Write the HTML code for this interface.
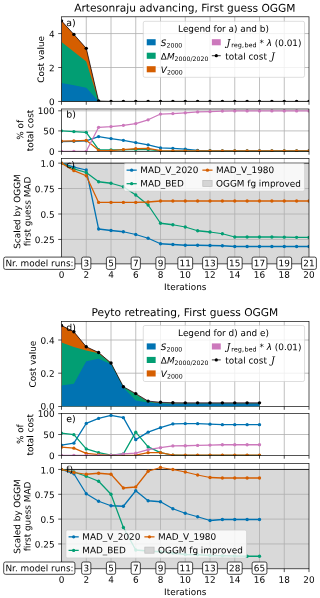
<!DOCTYPE html>
<html lang="en"><head><meta charset="utf-8"><title>Cost and MAD over iterations</title>
<style>html,body{margin:0;padding:0;background:#fff}svg{display:block}</style></head>
<body>
<svg width="320" height="598" viewBox="0 0 320 598" text-rendering="geometricPrecision" font-family='"DejaVu Sans", "Liberation Sans", sans-serif' fill="#000">
<rect width="320" height="598" fill="#fff"/>
<text x="184.85" y="11.6" transform="rotate(0.03 184.85 11.6)" font-size="10.65" text-anchor="middle">Artesonraju advancing, First guess OGGM</text>
<g stroke="#b0b0b0" stroke-width="0.8"><line x1="86.25" y1="16.8" x2="86.25" y2="101.45"/><line x1="111" y1="16.8" x2="111" y2="101.45"/><line x1="135.75" y1="16.8" x2="135.75" y2="101.45"/><line x1="160.5" y1="16.8" x2="160.5" y2="101.45"/><line x1="185.25" y1="16.8" x2="185.25" y2="101.45"/><line x1="210" y1="16.8" x2="210" y2="101.45"/><line x1="234.75" y1="16.8" x2="234.75" y2="101.45"/><line x1="259.5" y1="16.8" x2="259.5" y2="101.45"/><line x1="284.25" y1="16.8" x2="284.25" y2="101.45"/><line x1="61.5" y1="67.51" x2="309" y2="67.51"/><line x1="61.5" y1="33.57" x2="309" y2="33.57"/></g>
<clipPath id="c1"><rect x="61.5" y="16.8" width="247.5" height="84.65"/></clipPath>
<g clip-path="url(#c1)">
<polygon points="61.5,20.84 73.88,34.42 86.25,48.33 98.62,101.03 111,101.33 123.38,101.33 135.75,101.33 148.12,101.33 160.5,101.33 172.88,101.33 185.25,101.33 197.62,101.33 210,101.33 222.38,101.33 234.75,101.33 247.12,101.33 259.5,101.33 271.88,101.33 284.25,101.33 296.62,101.33 309,101.33 309,101.45 296.62,101.45 284.25,101.45 271.88,101.45 259.5,101.45 247.12,101.45 234.75,101.45 222.38,101.45 210,101.45 197.62,101.45 185.25,101.45 172.88,101.45 160.5,101.45 148.12,101.45 135.75,101.45 123.38,101.45 111,101.45 98.62,101.45 86.25,101.45 73.88,101.45 61.5,101.45" fill="#cc78bc"/>
<polygon points="61.5,20.84 73.88,34.42 86.25,48.33 98.62,101.11 111,101.35 123.38,101.35 135.75,101.35 148.12,101.35 160.5,101.35 172.88,101.35 185.25,101.35 197.62,101.35 210,101.35 222.38,101.35 234.75,101.35 247.12,101.35 259.5,101.35 271.88,101.35 284.25,101.35 296.62,101.35 309,101.35 309,101.45 296.62,101.45 284.25,101.45 271.88,101.45 259.5,101.45 247.12,101.45 234.75,101.45 222.38,101.45 210,101.45 197.62,101.45 185.25,101.45 172.88,101.45 160.5,101.45 148.12,101.45 135.75,101.45 123.38,101.45 111,101.45 98.62,101.45 86.25,101.45 73.88,101.45 61.5,101.45" fill="#d55e00"/>
<polygon points="61.5,42.06 73.88,51.73 86.25,61.4 98.62,101.25 111,101.37 123.38,101.37 135.75,101.37 148.12,101.37 160.5,101.37 172.88,101.37 185.25,101.37 197.62,101.37 210,101.37 222.38,101.37 234.75,101.37 247.12,101.37 259.5,101.37 271.88,101.37 284.25,101.37 296.62,101.37 309,101.37 309,101.45 296.62,101.45 284.25,101.45 271.88,101.45 259.5,101.45 247.12,101.45 234.75,101.45 222.38,101.45 210,101.45 197.62,101.45 185.25,101.45 172.88,101.45 160.5,101.45 148.12,101.45 135.75,101.45 123.38,101.45 111,101.45 98.62,101.45 86.25,101.45 73.88,101.45 61.5,101.45" fill="#029e73"/>
<polygon points="61.5,82.95 73.88,85.16 86.25,87.7 98.62,101.35 111,101.4 123.38,101.4 135.75,101.4 148.12,101.4 160.5,101.4 172.88,101.4 185.25,101.4 197.62,101.4 210,101.4 222.38,101.4 234.75,101.4 247.12,101.4 259.5,101.4 271.88,101.4 284.25,101.4 296.62,101.4 309,101.4 309,101.45 296.62,101.45 284.25,101.45 271.88,101.45 259.5,101.45 247.12,101.45 234.75,101.45 222.38,101.45 210,101.45 197.62,101.45 185.25,101.45 172.88,101.45 160.5,101.45 148.12,101.45 135.75,101.45 123.38,101.45 111,101.45 98.62,101.45 86.25,101.45 73.88,101.45 61.5,101.45" fill="#0173b2"/>
</g>
<rect x="61.5" y="16.8" width="247.5" height="84.65" fill="none" stroke="#000" stroke-width="0.67"/>
<g clip-path="url(#c1)"><polyline points="61.5,20.84 73.88,34.42 86.25,48.33 98.62,101.03 111,101.35 123.38,101.35 135.75,101.35 148.12,101.35 160.5,101.35 172.88,101.35 185.25,101.35 197.62,101.35 210,101.35 222.38,101.35 234.75,101.35 247.12,101.35 259.5,101.35 271.88,101.35 284.25,101.35 296.62,101.35 309,101.35" fill="none" stroke="#000" stroke-width="0.7" stroke-linejoin="round" stroke-linecap="butt"/><circle cx="61.5" cy="20.84" r="1.7" fill="#000"/><circle cx="73.88" cy="34.42" r="1.7" fill="#000"/><circle cx="86.25" cy="48.33" r="1.7" fill="#000"/><circle cx="98.62" cy="101.03" r="1.7" fill="#000"/><circle cx="111" cy="101.35" r="1.7" fill="#000"/><circle cx="123.38" cy="101.35" r="1.7" fill="#000"/><circle cx="135.75" cy="101.35" r="1.7" fill="#000"/><circle cx="148.12" cy="101.35" r="1.7" fill="#000"/><circle cx="160.5" cy="101.35" r="1.7" fill="#000"/><circle cx="172.88" cy="101.35" r="1.7" fill="#000"/><circle cx="185.25" cy="101.35" r="1.7" fill="#000"/><circle cx="197.62" cy="101.35" r="1.7" fill="#000"/><circle cx="210" cy="101.35" r="1.7" fill="#000"/><circle cx="222.38" cy="101.35" r="1.7" fill="#000"/><circle cx="234.75" cy="101.35" r="1.7" fill="#000"/><circle cx="247.12" cy="101.35" r="1.7" fill="#000"/><circle cx="259.5" cy="101.35" r="1.7" fill="#000"/><circle cx="271.88" cy="101.35" r="1.7" fill="#000"/><circle cx="284.25" cy="101.35" r="1.7" fill="#000"/><circle cx="296.62" cy="101.35" r="1.7" fill="#000"/><circle cx="309" cy="101.35" r="1.7" fill="#000"/></g>
<g stroke="#000" stroke-width="0.67"><line x1="61.5" y1="101.45" x2="61.5" y2="104.75"/><line x1="86.25" y1="101.45" x2="86.25" y2="104.75"/><line x1="111" y1="101.45" x2="111" y2="104.75"/><line x1="135.75" y1="101.45" x2="135.75" y2="104.75"/><line x1="160.5" y1="101.45" x2="160.5" y2="104.75"/><line x1="185.25" y1="101.45" x2="185.25" y2="104.75"/><line x1="210" y1="101.45" x2="210" y2="104.75"/><line x1="234.75" y1="101.45" x2="234.75" y2="104.75"/><line x1="259.5" y1="101.45" x2="259.5" y2="104.75"/><line x1="284.25" y1="101.45" x2="284.25" y2="104.75"/><line x1="309" y1="101.45" x2="309" y2="104.75"/><line x1="58.2" y1="101.45" x2="61.5" y2="101.45"/><line x1="58.2" y1="67.51" x2="61.5" y2="67.51"/><line x1="58.2" y1="33.57" x2="61.5" y2="33.57"/></g>
<text x="54.6" y="105.1" transform="rotate(0.03 54.6 105.1)" font-size="8.9" text-anchor="end">0</text>
<text x="54.6" y="71.16" transform="rotate(0.03 54.6 71.16)" font-size="8.9" text-anchor="end">2</text>
<text x="54.6" y="37.22" transform="rotate(0.03 54.6 37.22)" font-size="8.9" text-anchor="end">4</text>
<text transform="translate(44.1 59.33) rotate(-89.97)" font-size="8.9" text-anchor="middle">Cost value</text>
<text x="66.2" y="26.1" transform="rotate(0.03 66.2 26.1)" font-size="9.4" text-anchor="start">a)</text>
<rect x="143.25" y="21.3" width="161.3" height="56" rx="1.7" ry="1.7" fill="#fff" fill-opacity="0.8" stroke="#cacaca" stroke-opacity="0.95" stroke-width="0.67"/>
<text x="223.5" y="31.8" transform="rotate(0.03 223.5 31.8)" font-size="8.9" text-anchor="middle">Legend for a) and b)</text>
<rect x="146.75" y="39.2" width="8.9" height="6.1" fill="#0173b2"/>
<rect x="146.75" y="52.7" width="8.9" height="6.1" fill="#029e73"/>
<rect x="146.75" y="66.2" width="8.9" height="6.1" fill="#d55e00"/>
<text x="160.85" y="45.9" transform="rotate(0.03 160.85 45.9)" font-size="8.9" text-anchor="start"><tspan font-style="italic">S</tspan><tspan font-size="6.23" dy="1.5">2000</tspan></text>
<text x="160.85" y="59.4" transform="rotate(0.03 160.85 59.4)" font-size="8.9" text-anchor="start">Δ<tspan font-style="italic">M</tspan><tspan font-size="6.23" dy="1.5">2000/2020</tspan></text>
<text x="160.85" y="72.9" transform="rotate(0.03 160.85 72.9)" font-size="8.9" text-anchor="start"><tspan font-style="italic">V</tspan><tspan font-size="6.23" dy="1.5">2000</tspan></text>
<rect x="211.85" y="39.2" width="8.9" height="6.1" fill="#cc78bc"/>
<text x="225.35" y="45.9" transform="rotate(0.03 225.35 45.9)" font-size="8.9" text-anchor="start"><tspan dx="1.2" font-family='"DejaVu Serif", "Liberation Serif", serif' font-style="italic" font-size="9.6">J</tspan><tspan x="231.35" font-size="6.45" dy="1.3">reg,<tspan dx="0.5">bed</tspan></tspan><tspan dy="-1.3"> * </tspan><tspan font-style="italic">λ</tspan> (0.01)</text>
<line x1="211.85" y1="55.7" x2="220.75" y2="55.7" stroke="#000" stroke-width="0.8"/>
<circle cx="216.3" cy="55.7" r="1.6" fill="#000"/>
<text x="225.35" y="59.4" transform="rotate(0.03 225.35 59.4)" font-size="8.9" text-anchor="start">total cost <tspan dx="1.2" font-family='"DejaVu Serif", "Liberation Serif", serif' font-style="italic" font-size="9.6">J</tspan></text>
<g stroke="#b0b0b0" stroke-width="0.8"><line x1="86.25" y1="109" x2="86.25" y2="151.4"/><line x1="111" y1="109" x2="111" y2="151.4"/><line x1="135.75" y1="109" x2="135.75" y2="151.4"/><line x1="160.5" y1="109" x2="160.5" y2="151.4"/><line x1="185.25" y1="109" x2="185.25" y2="151.4"/><line x1="210" y1="109" x2="210" y2="151.4"/><line x1="234.75" y1="109" x2="234.75" y2="151.4"/><line x1="259.5" y1="109" x2="259.5" y2="151.4"/><line x1="284.25" y1="109" x2="284.25" y2="151.4"/><line x1="61.5" y1="130.9" x2="309" y2="130.9"/><line x1="61.5" y1="110.8" x2="309" y2="110.8"/></g>
<clipPath id="c2"><rect x="61.5" y="109" width="247.5" height="42.4"/></clipPath>
<g clip-path="url(#c2)"><polyline points="61.5,141.55 73.88,141.3 86.25,140.8 98.62,136.55 111,138.55 123.38,140.3 135.75,142.55 148.12,144.8 160.5,147.8 172.88,148.3 185.25,149.05 197.62,150.3 210,150.7 222.38,150.8 234.75,150.8 247.12,150.8 259.5,150.8 271.88,150.8 284.25,150.8 296.62,150.8 309,150.8" fill="none" stroke="#0173b2" stroke-width="1.26" stroke-linejoin="round" stroke-linecap="butt"/><circle cx="61.5" cy="141.55" r="1.65" fill="#0173b2"/><circle cx="73.88" cy="141.3" r="1.65" fill="#0173b2"/><circle cx="86.25" cy="140.8" r="1.65" fill="#0173b2"/><circle cx="98.62" cy="136.55" r="1.65" fill="#0173b2"/><circle cx="111" cy="138.55" r="1.65" fill="#0173b2"/><circle cx="123.38" cy="140.3" r="1.65" fill="#0173b2"/><circle cx="135.75" cy="142.55" r="1.65" fill="#0173b2"/><circle cx="148.12" cy="144.8" r="1.65" fill="#0173b2"/><circle cx="160.5" cy="147.8" r="1.65" fill="#0173b2"/><circle cx="172.88" cy="148.3" r="1.65" fill="#0173b2"/><circle cx="185.25" cy="149.05" r="1.65" fill="#0173b2"/><circle cx="197.62" cy="150.3" r="1.65" fill="#0173b2"/><circle cx="210" cy="150.7" r="1.65" fill="#0173b2"/><circle cx="222.38" cy="150.8" r="1.65" fill="#0173b2"/><circle cx="234.75" cy="150.8" r="1.65" fill="#0173b2"/><circle cx="247.12" cy="150.8" r="1.65" fill="#0173b2"/><circle cx="259.5" cy="150.8" r="1.65" fill="#0173b2"/><circle cx="271.88" cy="150.8" r="1.65" fill="#0173b2"/><circle cx="284.25" cy="150.8" r="1.65" fill="#0173b2"/><circle cx="296.62" cy="150.8" r="1.65" fill="#0173b2"/><circle cx="309" cy="150.8" r="1.65" fill="#0173b2"/></g>
<g clip-path="url(#c2)"><polyline points="61.5,130.8 73.88,131.55 86.25,132.3 98.62,149.55 111,149.8 123.38,149.8 135.75,149.4 148.12,149.6 160.5,150.9 172.88,151.1 185.25,151.1 197.62,151.1 210,151.1 222.38,151.1 234.75,151.1 247.12,151.1 259.5,151.1 271.88,151.1 284.25,151.1 296.62,151.1 309,151.1" fill="none" stroke="#029e73" stroke-width="1.26" stroke-linejoin="round" stroke-linecap="butt"/><circle cx="61.5" cy="130.8" r="1.65" fill="#029e73"/><circle cx="73.88" cy="131.55" r="1.65" fill="#029e73"/><circle cx="86.25" cy="132.3" r="1.65" fill="#029e73"/><circle cx="98.62" cy="149.55" r="1.65" fill="#029e73"/><circle cx="111" cy="149.8" r="1.65" fill="#029e73"/><circle cx="123.38" cy="149.8" r="1.65" fill="#029e73"/><circle cx="135.75" cy="149.4" r="1.65" fill="#029e73"/><circle cx="148.12" cy="149.6" r="1.65" fill="#029e73"/><circle cx="160.5" cy="150.9" r="1.65" fill="#029e73"/><circle cx="172.88" cy="151.1" r="1.65" fill="#029e73"/><circle cx="185.25" cy="151.1" r="1.65" fill="#029e73"/><circle cx="197.62" cy="151.1" r="1.65" fill="#029e73"/><circle cx="210" cy="151.1" r="1.65" fill="#029e73"/><circle cx="222.38" cy="151.1" r="1.65" fill="#029e73"/><circle cx="234.75" cy="151.1" r="1.65" fill="#029e73"/><circle cx="247.12" cy="151.1" r="1.65" fill="#029e73"/><circle cx="259.5" cy="151.1" r="1.65" fill="#029e73"/><circle cx="271.88" cy="151.1" r="1.65" fill="#029e73"/><circle cx="284.25" cy="151.1" r="1.65" fill="#029e73"/><circle cx="296.62" cy="151.1" r="1.65" fill="#029e73"/><circle cx="309" cy="151.1" r="1.65" fill="#029e73"/></g>
<g clip-path="url(#c2)"><polyline points="61.5,141.05 73.88,140.8 86.25,140.3 98.62,150.3 111,150.55 123.38,149.55 135.75,148.55 148.12,148.4 160.5,150.6 172.88,150.8 185.25,150.9 197.62,150.95 210,150.95 222.38,150.95 234.75,150.95 247.12,150.95 259.5,150.95 271.88,150.95 284.25,150.95 296.62,150.95 309,150.95" fill="none" stroke="#d55e00" stroke-width="1.26" stroke-linejoin="round" stroke-linecap="butt"/><circle cx="61.5" cy="141.05" r="1.65" fill="#d55e00"/><circle cx="73.88" cy="140.8" r="1.65" fill="#d55e00"/><circle cx="86.25" cy="140.3" r="1.65" fill="#d55e00"/><circle cx="98.62" cy="150.3" r="1.65" fill="#d55e00"/><circle cx="111" cy="150.55" r="1.65" fill="#d55e00"/><circle cx="123.38" cy="149.55" r="1.65" fill="#d55e00"/><circle cx="135.75" cy="148.55" r="1.65" fill="#d55e00"/><circle cx="148.12" cy="148.4" r="1.65" fill="#d55e00"/><circle cx="160.5" cy="150.6" r="1.65" fill="#d55e00"/><circle cx="172.88" cy="150.8" r="1.65" fill="#d55e00"/><circle cx="185.25" cy="150.9" r="1.65" fill="#d55e00"/><circle cx="197.62" cy="150.95" r="1.65" fill="#d55e00"/><circle cx="210" cy="150.95" r="1.65" fill="#d55e00"/><circle cx="222.38" cy="150.95" r="1.65" fill="#d55e00"/><circle cx="234.75" cy="150.95" r="1.65" fill="#d55e00"/><circle cx="247.12" cy="150.95" r="1.65" fill="#d55e00"/><circle cx="259.5" cy="150.95" r="1.65" fill="#d55e00"/><circle cx="271.88" cy="150.95" r="1.65" fill="#d55e00"/><circle cx="284.25" cy="150.95" r="1.65" fill="#d55e00"/><circle cx="296.62" cy="150.95" r="1.65" fill="#d55e00"/><circle cx="309" cy="150.95" r="1.65" fill="#d55e00"/></g>
<g clip-path="url(#c2)"><polyline points="61.5,151.3 73.88,151.3 86.25,151.3 98.62,127.3 111,126.55 123.38,125.3 135.75,123.55 148.12,119.8 160.5,114.05 172.88,113.55 185.25,112.8 197.62,111.9 210,111.55 222.38,111.1 234.75,110.9 247.12,110.9 259.5,110.9 271.88,110.9 284.25,110.9 296.62,110.9 309,110.9" fill="none" stroke="#cc78bc" stroke-width="1.26" stroke-linejoin="round" stroke-linecap="butt"/><circle cx="61.5" cy="151.3" r="1.65" fill="#cc78bc"/><circle cx="73.88" cy="151.3" r="1.65" fill="#cc78bc"/><circle cx="86.25" cy="151.3" r="1.65" fill="#cc78bc"/><circle cx="98.62" cy="127.3" r="1.65" fill="#cc78bc"/><circle cx="111" cy="126.55" r="1.65" fill="#cc78bc"/><circle cx="123.38" cy="125.3" r="1.65" fill="#cc78bc"/><circle cx="135.75" cy="123.55" r="1.65" fill="#cc78bc"/><circle cx="148.12" cy="119.8" r="1.65" fill="#cc78bc"/><circle cx="160.5" cy="114.05" r="1.65" fill="#cc78bc"/><circle cx="172.88" cy="113.55" r="1.65" fill="#cc78bc"/><circle cx="185.25" cy="112.8" r="1.65" fill="#cc78bc"/><circle cx="197.62" cy="111.9" r="1.65" fill="#cc78bc"/><circle cx="210" cy="111.55" r="1.65" fill="#cc78bc"/><circle cx="222.38" cy="111.1" r="1.65" fill="#cc78bc"/><circle cx="234.75" cy="110.9" r="1.65" fill="#cc78bc"/><circle cx="247.12" cy="110.9" r="1.65" fill="#cc78bc"/><circle cx="259.5" cy="110.9" r="1.65" fill="#cc78bc"/><circle cx="271.88" cy="110.9" r="1.65" fill="#cc78bc"/><circle cx="284.25" cy="110.9" r="1.65" fill="#cc78bc"/><circle cx="296.62" cy="110.9" r="1.65" fill="#cc78bc"/><circle cx="309" cy="110.9" r="1.65" fill="#cc78bc"/></g>
<rect x="61.5" y="109" width="247.5" height="42.4" fill="none" stroke="#000" stroke-width="0.67"/>
<g stroke="#000" stroke-width="0.67"><line x1="61.5" y1="151.4" x2="61.5" y2="154.7"/><line x1="86.25" y1="151.4" x2="86.25" y2="154.7"/><line x1="111" y1="151.4" x2="111" y2="154.7"/><line x1="135.75" y1="151.4" x2="135.75" y2="154.7"/><line x1="160.5" y1="151.4" x2="160.5" y2="154.7"/><line x1="185.25" y1="151.4" x2="185.25" y2="154.7"/><line x1="210" y1="151.4" x2="210" y2="154.7"/><line x1="234.75" y1="151.4" x2="234.75" y2="154.7"/><line x1="259.5" y1="151.4" x2="259.5" y2="154.7"/><line x1="284.25" y1="151.4" x2="284.25" y2="154.7"/><line x1="309" y1="151.4" x2="309" y2="154.7"/><line x1="58.2" y1="151.35" x2="61.5" y2="151.35"/><line x1="58.2" y1="130.9" x2="61.5" y2="130.9"/><line x1="58.2" y1="110.8" x2="61.5" y2="110.8"/></g>
<text x="54.6" y="154.8" transform="rotate(0.03 54.6 154.8)" font-size="8.9" text-anchor="end">0</text>
<text x="54.6" y="134.25" transform="rotate(0.03 54.6 134.25)" font-size="8.9" text-anchor="end">50</text>
<text x="54.6" y="113.95" transform="rotate(0.03 54.6 113.95)" font-size="8.9" text-anchor="end">100</text>
<text transform="translate(23.3 129.9) rotate(-89.97)" font-size="8.9" text-anchor="middle">% of</text>
<text transform="translate(33.3 130.5) rotate(-89.97)" font-size="8.9" text-anchor="middle">total cost</text>
<text x="66.2" y="117.4" transform="rotate(0.03 66.2 117.4)" font-size="9.4" text-anchor="start">b)</text>
<rect x="61.5" y="163.15" width="247.5" height="100.75" fill="#d9d9d9"/>
<g stroke="#b0b0b0" stroke-width="0.8"><line x1="86.25" y1="158.6" x2="86.25" y2="263.9"/><line x1="111" y1="158.6" x2="111" y2="263.9"/><line x1="135.75" y1="158.6" x2="135.75" y2="263.9"/><line x1="160.5" y1="158.6" x2="160.5" y2="263.9"/><line x1="185.25" y1="158.6" x2="185.25" y2="263.9"/><line x1="210" y1="158.6" x2="210" y2="263.9"/><line x1="234.75" y1="158.6" x2="234.75" y2="263.9"/><line x1="259.5" y1="158.6" x2="259.5" y2="263.9"/><line x1="284.25" y1="158.6" x2="284.25" y2="263.9"/><line x1="61.5" y1="188.5" x2="309" y2="188.5"/><line x1="61.5" y1="214" x2="309" y2="214"/><line x1="61.5" y1="239.45" x2="309" y2="239.45"/></g>
<clipPath id="c3"><rect x="61.5" y="158.6" width="247.5" height="105.3"/></clipPath>
<line x1="61.5" y1="163.15" x2="309" y2="163.15" stroke="#000" stroke-width="0.85"/>
<g clip-path="url(#c3)"><polyline points="61.5,163.15 73.88,167.2 86.25,170 98.62,229 111,230.5 123.38,231.75 135.75,234.5 148.12,238.25 160.5,243.75 172.88,244.5 185.25,245.25 197.62,245.25 210,245.5 222.38,245.75 234.75,246.5 247.12,246.5 259.5,246.5 271.88,246.5 284.25,246.5 296.62,246.5 309,246.5" fill="none" stroke="#0173b2" stroke-width="1.26" stroke-linejoin="round" stroke-linecap="butt"/><circle cx="61.5" cy="163.15" r="1.65" fill="#0173b2"/><circle cx="73.88" cy="167.2" r="1.65" fill="#0173b2"/><circle cx="86.25" cy="170" r="1.65" fill="#0173b2"/><circle cx="98.62" cy="229" r="1.65" fill="#0173b2"/><circle cx="111" cy="230.5" r="1.65" fill="#0173b2"/><circle cx="123.38" cy="231.75" r="1.65" fill="#0173b2"/><circle cx="135.75" cy="234.5" r="1.65" fill="#0173b2"/><circle cx="148.12" cy="238.25" r="1.65" fill="#0173b2"/><circle cx="160.5" cy="243.75" r="1.65" fill="#0173b2"/><circle cx="172.88" cy="244.5" r="1.65" fill="#0173b2"/><circle cx="185.25" cy="245.25" r="1.65" fill="#0173b2"/><circle cx="197.62" cy="245.25" r="1.65" fill="#0173b2"/><circle cx="210" cy="245.5" r="1.65" fill="#0173b2"/><circle cx="222.38" cy="245.75" r="1.65" fill="#0173b2"/><circle cx="234.75" cy="246.5" r="1.65" fill="#0173b2"/><circle cx="247.12" cy="246.5" r="1.65" fill="#0173b2"/><circle cx="259.5" cy="246.5" r="1.65" fill="#0173b2"/><circle cx="271.88" cy="246.5" r="1.65" fill="#0173b2"/><circle cx="284.25" cy="246.5" r="1.65" fill="#0173b2"/><circle cx="296.62" cy="246.5" r="1.65" fill="#0173b2"/><circle cx="309" cy="246.5" r="1.65" fill="#0173b2"/></g>
<g clip-path="url(#c3)"><polyline points="61.5,163.15 73.88,168.95 86.25,172.5 98.62,181.75 111,183.25 123.38,186.75 135.75,195 148.12,205 160.5,223.25 172.88,224.75 185.25,227 197.62,230.75 210,232 222.38,233.75 234.75,237 247.12,237 259.5,237 271.88,237 284.25,237.2 296.62,237.3 309,237.4" fill="none" stroke="#029e73" stroke-width="1.26" stroke-linejoin="round" stroke-linecap="butt"/><circle cx="61.5" cy="163.15" r="1.65" fill="#029e73"/><circle cx="73.88" cy="168.95" r="1.65" fill="#029e73"/><circle cx="86.25" cy="172.5" r="1.65" fill="#029e73"/><circle cx="98.62" cy="181.75" r="1.65" fill="#029e73"/><circle cx="111" cy="183.25" r="1.65" fill="#029e73"/><circle cx="123.38" cy="186.75" r="1.65" fill="#029e73"/><circle cx="135.75" cy="195" r="1.65" fill="#029e73"/><circle cx="148.12" cy="205" r="1.65" fill="#029e73"/><circle cx="160.5" cy="223.25" r="1.65" fill="#029e73"/><circle cx="172.88" cy="224.75" r="1.65" fill="#029e73"/><circle cx="185.25" cy="227" r="1.65" fill="#029e73"/><circle cx="197.62" cy="230.75" r="1.65" fill="#029e73"/><circle cx="210" cy="232" r="1.65" fill="#029e73"/><circle cx="222.38" cy="233.75" r="1.65" fill="#029e73"/><circle cx="234.75" cy="237" r="1.65" fill="#029e73"/><circle cx="247.12" cy="237" r="1.65" fill="#029e73"/><circle cx="259.5" cy="237" r="1.65" fill="#029e73"/><circle cx="271.88" cy="237" r="1.65" fill="#029e73"/><circle cx="284.25" cy="237.2" r="1.65" fill="#029e73"/><circle cx="296.62" cy="237.3" r="1.65" fill="#029e73"/><circle cx="309" cy="237.4" r="1.65" fill="#029e73"/></g>
<g clip-path="url(#c3)"><polyline points="61.5,163.15 73.88,170.7 86.25,175.75 98.62,202.4 111,202.4 123.38,202.4 135.75,202.4 148.12,202 160.5,201 172.88,201 185.25,201 197.62,201 210,201 222.38,201 234.75,201 247.12,201 259.5,201 271.88,201 284.25,201 296.62,201 309,201" fill="none" stroke="#d55e00" stroke-width="1.26" stroke-linejoin="round" stroke-linecap="butt"/><circle cx="61.5" cy="163.15" r="1.65" fill="#d55e00"/><circle cx="73.88" cy="170.7" r="1.65" fill="#d55e00"/><circle cx="86.25" cy="175.75" r="1.65" fill="#d55e00"/><circle cx="98.62" cy="202.4" r="1.65" fill="#d55e00"/><circle cx="111" cy="202.4" r="1.65" fill="#d55e00"/><circle cx="123.38" cy="202.4" r="1.65" fill="#d55e00"/><circle cx="135.75" cy="202.4" r="1.65" fill="#d55e00"/><circle cx="148.12" cy="202" r="1.65" fill="#d55e00"/><circle cx="160.5" cy="201" r="1.65" fill="#d55e00"/><circle cx="172.88" cy="201" r="1.65" fill="#d55e00"/><circle cx="185.25" cy="201" r="1.65" fill="#d55e00"/><circle cx="197.62" cy="201" r="1.65" fill="#d55e00"/><circle cx="210" cy="201" r="1.65" fill="#d55e00"/><circle cx="222.38" cy="201" r="1.65" fill="#d55e00"/><circle cx="234.75" cy="201" r="1.65" fill="#d55e00"/><circle cx="247.12" cy="201" r="1.65" fill="#d55e00"/><circle cx="259.5" cy="201" r="1.65" fill="#d55e00"/><circle cx="271.88" cy="201" r="1.65" fill="#d55e00"/><circle cx="284.25" cy="201" r="1.65" fill="#d55e00"/><circle cx="296.62" cy="201" r="1.65" fill="#d55e00"/><circle cx="309" cy="201" r="1.65" fill="#d55e00"/></g>
<rect x="61.5" y="158.6" width="247.5" height="105.3" fill="none" stroke="#000" stroke-width="0.67"/>
<g stroke="#000" stroke-width="0.67"><line x1="61.5" y1="263.9" x2="61.5" y2="267.2"/><line x1="86.25" y1="263.9" x2="86.25" y2="267.2"/><line x1="111" y1="263.9" x2="111" y2="267.2"/><line x1="135.75" y1="263.9" x2="135.75" y2="267.2"/><line x1="160.5" y1="263.9" x2="160.5" y2="267.2"/><line x1="185.25" y1="263.9" x2="185.25" y2="267.2"/><line x1="210" y1="263.9" x2="210" y2="267.2"/><line x1="234.75" y1="263.9" x2="234.75" y2="267.2"/><line x1="259.5" y1="263.9" x2="259.5" y2="267.2"/><line x1="284.25" y1="263.9" x2="284.25" y2="267.2"/><line x1="309" y1="263.9" x2="309" y2="267.2"/><line x1="58.2" y1="163.15" x2="61.5" y2="163.15"/><line x1="58.2" y1="188.5" x2="61.5" y2="188.5"/><line x1="58.2" y1="214" x2="61.5" y2="214"/><line x1="58.2" y1="239.45" x2="61.5" y2="239.45"/></g>
<text x="54.6" y="166.8" transform="rotate(0.03 54.6 166.8)" font-size="8.9" text-anchor="end">1.0</text>
<text x="54.6" y="192.15" transform="rotate(0.03 54.6 192.15)" font-size="8.9" text-anchor="end">0.75</text>
<text x="54.6" y="217.65" transform="rotate(0.03 54.6 217.65)" font-size="8.9" text-anchor="end">0.5</text>
<text x="54.6" y="243.1" transform="rotate(0.03 54.6 243.1)" font-size="8.9" text-anchor="end">0.25</text>
<text transform="translate(20.3 211.55) rotate(-89.97)" font-size="8.9" text-anchor="middle">Scaled by OGGM</text>
<text transform="translate(30.6 211.55) rotate(-89.97)" font-size="8.9" text-anchor="middle">first guess MAD</text>
<text x="66.2" y="167.9" transform="rotate(0.03 66.2 167.9)" font-size="9.4" text-anchor="start">c)</text>
<rect x="123.9" y="163.4" width="180.7" height="27.8" rx="1.7" ry="1.7" fill="#fff" fill-opacity="0.8" stroke="#cacaca" stroke-opacity="0.95" stroke-width="0.67"/>
<line x1="127.2" y1="170.15" x2="136.1" y2="170.15" stroke="#0173b2" stroke-width="1.26" stroke-linecap="square"/>
<circle cx="131.65" cy="170.15" r="1.65" fill="#0173b2"/>
<line x1="127.2" y1="183.7" x2="136.1" y2="183.7" stroke="#029e73" stroke-width="1.26" stroke-linecap="square"/>
<circle cx="131.65" cy="183.7" r="1.65" fill="#029e73"/>
<text x="140.25" y="173.05" transform="rotate(0.03 140.25 173.05)" font-size="8.9" text-anchor="start">MAD_V_2020</text>
<text x="140.25" y="186.6" transform="rotate(0.03 140.25 186.6)" font-size="8.9" text-anchor="start">MAD_BED</text>
<line x1="203" y1="170.15" x2="211.9" y2="170.15" stroke="#d55e00" stroke-width="1.26" stroke-linecap="square"/>
<circle cx="207.45" cy="170.15" r="1.65" fill="#d55e00"/>
<rect x="202.8" y="180.4" width="9.3" height="6.1" fill="#d5d5d5" stroke="#bcbcbc" stroke-width="0.7"/>
<text x="216.05" y="173.05" transform="rotate(0.03 216.05 173.05)" font-size="8.9" text-anchor="start">MAD_V_1980</text>
<text x="216.05" y="186.6" transform="rotate(0.03 216.05 186.6)" font-size="8.9" text-anchor="start">OGGM fg improved</text>
<g fill="#fff" stroke="#000" stroke-width="0.72"><rect x="3.7" y="257.1" width="71.2" height="12.3" rx="1.8" ry="1.8"/><rect x="81.65" y="257.1" width="9.2" height="12.3" rx="1.8" ry="1.8"/><rect x="106.4" y="257.1" width="9.2" height="12.3" rx="1.8" ry="1.8"/><rect x="131.15" y="257.1" width="9.2" height="12.3" rx="1.8" ry="1.8"/><rect x="155.9" y="257.1" width="9.2" height="12.3" rx="1.8" ry="1.8"/><rect x="177.85" y="257.1" width="14.8" height="12.3" rx="1.8" ry="1.8"/><rect x="202.6" y="257.1" width="14.8" height="12.3" rx="1.8" ry="1.8"/><rect x="227.35" y="257.1" width="14.8" height="12.3" rx="1.8" ry="1.8"/><rect x="252.1" y="257.1" width="14.8" height="12.3" rx="1.8" ry="1.8"/><rect x="276.85" y="257.1" width="14.8" height="12.3" rx="1.8" ry="1.8"/><rect x="301.6" y="257.1" width="14.8" height="12.3" rx="1.8" ry="1.8"/></g>
<text x="39.5" y="266.35" transform="rotate(0.03 39.5 266.35)" font-size="8.9" text-anchor="middle">Nr. model runs:</text>
<text x="86.25" y="266.35" transform="rotate(0.03 86.25 266.35)" font-size="8.9" text-anchor="middle">3</text>
<text x="111" y="266.35" transform="rotate(0.03 111 266.35)" font-size="8.9" text-anchor="middle">5</text>
<text x="135.75" y="266.35" transform="rotate(0.03 135.75 266.35)" font-size="8.9" text-anchor="middle">7</text>
<text x="160.5" y="266.35" transform="rotate(0.03 160.5 266.35)" font-size="8.9" text-anchor="middle">9</text>
<text x="185.25" y="266.35" transform="rotate(0.03 185.25 266.35)" font-size="8.9" text-anchor="middle">11</text>
<text x="210" y="266.35" transform="rotate(0.03 210 266.35)" font-size="8.9" text-anchor="middle">13</text>
<text x="234.75" y="266.35" transform="rotate(0.03 234.75 266.35)" font-size="8.9" text-anchor="middle">15</text>
<text x="259.5" y="266.35" transform="rotate(0.03 259.5 266.35)" font-size="8.9" text-anchor="middle">17</text>
<text x="284.25" y="266.35" transform="rotate(0.03 284.25 266.35)" font-size="8.9" text-anchor="middle">19</text>
<text x="309" y="266.35" transform="rotate(0.03 309 266.35)" font-size="8.9" text-anchor="middle">21</text>
<text x="61.5" y="277.8" transform="rotate(0.03 61.5 277.8)" font-size="8.9" text-anchor="middle">0</text>
<text x="86.25" y="277.8" transform="rotate(0.03 86.25 277.8)" font-size="8.9" text-anchor="middle">2</text>
<text x="111" y="277.8" transform="rotate(0.03 111 277.8)" font-size="8.9" text-anchor="middle">4</text>
<text x="135.75" y="277.8" transform="rotate(0.03 135.75 277.8)" font-size="8.9" text-anchor="middle">6</text>
<text x="160.5" y="277.8" transform="rotate(0.03 160.5 277.8)" font-size="8.9" text-anchor="middle">8</text>
<text x="185.25" y="277.8" transform="rotate(0.03 185.25 277.8)" font-size="8.9" text-anchor="middle">10</text>
<text x="210" y="277.8" transform="rotate(0.03 210 277.8)" font-size="8.9" text-anchor="middle">12</text>
<text x="234.75" y="277.8" transform="rotate(0.03 234.75 277.8)" font-size="8.9" text-anchor="middle">14</text>
<text x="259.5" y="277.8" transform="rotate(0.03 259.5 277.8)" font-size="8.9" text-anchor="middle">16</text>
<text x="284.25" y="277.8" transform="rotate(0.03 284.25 277.8)" font-size="8.9" text-anchor="middle">18</text>
<text x="309" y="277.8" transform="rotate(0.03 309 277.8)" font-size="8.9" text-anchor="middle">20</text>
<text x="185.25" y="290.1" transform="rotate(0.03 185.25 290.1)" font-size="8.9" text-anchor="middle">Iterations</text>
<text x="184.85" y="316" transform="rotate(0.03 184.85 316)" font-size="10.65" text-anchor="middle">Peyto retreating, First guess OGGM</text>
<g stroke="#b0b0b0" stroke-width="0.8"><line x1="86.25" y1="321.45" x2="86.25" y2="406.5"/><line x1="111" y1="321.45" x2="111" y2="406.5"/><line x1="135.75" y1="321.45" x2="135.75" y2="406.5"/><line x1="160.5" y1="321.45" x2="160.5" y2="406.5"/><line x1="185.25" y1="321.45" x2="185.25" y2="406.5"/><line x1="210" y1="321.45" x2="210" y2="406.5"/><line x1="234.75" y1="321.45" x2="234.75" y2="406.5"/><line x1="259.5" y1="321.45" x2="259.5" y2="406.5"/><line x1="284.25" y1="321.45" x2="284.25" y2="406.5"/><line x1="61.5" y1="373.2" x2="309" y2="373.2"/><line x1="61.5" y1="340" x2="309" y2="340"/></g>
<clipPath id="c4"><rect x="61.5" y="321.45" width="247.5" height="85.05"/></clipPath>
<rect x="61.5" y="321.45" width="247.5" height="85.05" fill="none" stroke="#000" stroke-width="0.67"/>
<g clip-path="url(#c4)">
<polygon points="61.5,325.5 73.88,331.75 86.25,346.75 98.62,352.5 111,363 123.38,386.7 135.75,393.6 148.12,401.1 160.5,402.3 172.88,402.7 185.25,402.85 197.62,402.85 210,402.85 222.38,402.85 234.75,402.85 247.12,402.85 259.5,402.85 259.5,406.5 247.12,406.5 234.75,406.5 222.38,406.5 210,406.5 197.62,406.5 185.25,406.5 172.88,406.5 160.5,406.5 148.12,406.5 135.75,406.5 123.38,406.5 111,406.5 98.62,406.5 86.25,406.5 73.88,406.5 61.5,406.5" fill="#cc78bc"/>
<polygon points="61.5,325.5 73.88,331.75 86.25,346.75 98.62,352.5 111,363.05 123.38,386.9 135.75,393.9 148.12,401.4 160.5,402.7 172.88,403.2 185.25,403.2 197.62,403.2 210,403.2 222.38,403.2 234.75,403.2 247.12,403.2 259.5,403.2 259.5,406.5 247.12,406.5 234.75,406.5 222.38,406.5 210,406.5 197.62,406.5 185.25,406.5 172.88,406.5 160.5,406.5 148.12,406.5 135.75,406.5 123.38,406.5 111,406.5 98.62,406.5 86.25,406.5 73.88,406.5 61.5,406.5" fill="#d55e00"/>
<polygon points="61.5,342.6 73.88,347 86.25,350.5 98.62,353.3 111,363.4 123.38,387.1 135.75,394.3 148.12,401.8 160.5,403 172.88,403.4 185.25,403.4 197.62,403.4 210,403.4 222.38,403.4 234.75,403.4 247.12,403.4 259.5,403.4 259.5,406.5 247.12,406.5 234.75,406.5 222.38,406.5 210,406.5 197.62,406.5 185.25,406.5 172.88,406.5 160.5,406.5 148.12,406.5 135.75,406.5 123.38,406.5 111,406.5 98.62,406.5 86.25,406.5 73.88,406.5 61.5,406.5" fill="#029e73"/>
<polygon points="61.5,385.6 73.88,383.75 86.25,361.25 98.62,358.75 111,364.25 123.38,387.5 135.75,400.4 148.12,402.6 160.5,403.6 172.88,403.7 185.25,403.6 197.62,403.6 210,403.6 222.38,403.6 234.75,403.6 247.12,403.6 259.5,403.6 259.5,406.5 247.12,406.5 234.75,406.5 222.38,406.5 210,406.5 197.62,406.5 185.25,406.5 172.88,406.5 160.5,406.5 148.12,406.5 135.75,406.5 123.38,406.5 111,406.5 98.62,406.5 86.25,406.5 73.88,406.5 61.5,406.5" fill="#0173b2"/>
</g>
<g clip-path="url(#c4)"><polyline points="61.5,325.5 73.88,331.75 86.25,346.75 98.62,352.5 111,363 123.38,386.7 135.75,393.6 148.12,401.1 160.5,402.3 172.88,402.7 185.25,402.85 197.62,402.85 210,402.85 222.38,402.85 234.75,402.85 247.12,402.85 259.5,402.85" fill="none" stroke="#000" stroke-width="0.7" stroke-linejoin="round" stroke-linecap="butt"/><circle cx="61.5" cy="325.5" r="1.7" fill="#000"/><circle cx="73.88" cy="331.75" r="1.7" fill="#000"/><circle cx="86.25" cy="346.75" r="1.7" fill="#000"/><circle cx="98.62" cy="352.5" r="1.7" fill="#000"/><circle cx="111" cy="363" r="1.7" fill="#000"/><circle cx="123.38" cy="386.7" r="1.7" fill="#000"/><circle cx="135.75" cy="393.6" r="1.7" fill="#000"/><circle cx="148.12" cy="401.1" r="1.7" fill="#000"/><circle cx="160.5" cy="402.3" r="1.7" fill="#000"/><circle cx="172.88" cy="402.7" r="1.7" fill="#000"/><circle cx="185.25" cy="402.85" r="1.7" fill="#000"/><circle cx="197.62" cy="402.85" r="1.7" fill="#000"/><circle cx="210" cy="402.85" r="1.7" fill="#000"/><circle cx="222.38" cy="402.85" r="1.7" fill="#000"/><circle cx="234.75" cy="402.85" r="1.7" fill="#000"/><circle cx="247.12" cy="402.85" r="1.7" fill="#000"/><circle cx="259.5" cy="402.85" r="1.7" fill="#000"/></g>
<g stroke="#000" stroke-width="0.67"><line x1="61.5" y1="406.5" x2="61.5" y2="409.8"/><line x1="86.25" y1="406.5" x2="86.25" y2="409.8"/><line x1="111" y1="406.5" x2="111" y2="409.8"/><line x1="135.75" y1="406.5" x2="135.75" y2="409.8"/><line x1="160.5" y1="406.5" x2="160.5" y2="409.8"/><line x1="185.25" y1="406.5" x2="185.25" y2="409.8"/><line x1="210" y1="406.5" x2="210" y2="409.8"/><line x1="234.75" y1="406.5" x2="234.75" y2="409.8"/><line x1="259.5" y1="406.5" x2="259.5" y2="409.8"/><line x1="284.25" y1="406.5" x2="284.25" y2="409.8"/><line x1="309" y1="406.5" x2="309" y2="409.8"/><line x1="58.2" y1="406.5" x2="61.5" y2="406.5"/><line x1="58.2" y1="373.2" x2="61.5" y2="373.2"/><line x1="58.2" y1="340" x2="61.5" y2="340"/></g>
<text x="54.6" y="409.55" transform="rotate(0.03 54.6 409.55)" font-size="8.9" text-anchor="end">0.0</text>
<text x="54.6" y="376.85" transform="rotate(0.03 54.6 376.85)" font-size="8.9" text-anchor="end">0.2</text>
<text x="54.6" y="343.65" transform="rotate(0.03 54.6 343.65)" font-size="8.9" text-anchor="end">0.4</text>
<text transform="translate(35.8 364.18) rotate(-89.97)" font-size="8.9" text-anchor="middle">Cost value</text>
<text x="66.2" y="330.75" transform="rotate(0.03 66.2 330.75)" font-size="9.4" text-anchor="start">d)</text>
<rect x="143.25" y="325.5" width="161.3" height="56" rx="1.7" ry="1.7" fill="#fff" fill-opacity="0.8" stroke="#cacaca" stroke-opacity="0.95" stroke-width="0.67"/>
<text x="223.5" y="336" transform="rotate(0.03 223.5 336)" font-size="8.9" text-anchor="middle">Legend for d) and e)</text>
<rect x="146.75" y="343.4" width="8.9" height="6.1" fill="#0173b2"/>
<rect x="146.75" y="356.9" width="8.9" height="6.1" fill="#029e73"/>
<rect x="146.75" y="370.4" width="8.9" height="6.1" fill="#d55e00"/>
<text x="160.85" y="350.1" transform="rotate(0.03 160.85 350.1)" font-size="8.9" text-anchor="start"><tspan font-style="italic">S</tspan><tspan font-size="6.23" dy="1.5">2000</tspan></text>
<text x="160.85" y="363.6" transform="rotate(0.03 160.85 363.6)" font-size="8.9" text-anchor="start">Δ<tspan font-style="italic">M</tspan><tspan font-size="6.23" dy="1.5">2000/2020</tspan></text>
<text x="160.85" y="377.1" transform="rotate(0.03 160.85 377.1)" font-size="8.9" text-anchor="start"><tspan font-style="italic">V</tspan><tspan font-size="6.23" dy="1.5">2000</tspan></text>
<rect x="211.85" y="343.4" width="8.9" height="6.1" fill="#cc78bc"/>
<text x="225.35" y="350.1" transform="rotate(0.03 225.35 350.1)" font-size="8.9" text-anchor="start"><tspan dx="1.2" font-family='"DejaVu Serif", "Liberation Serif", serif' font-style="italic" font-size="9.6">J</tspan><tspan x="231.35" font-size="6.45" dy="1.3">reg,<tspan dx="0.5">bed</tspan></tspan><tspan dy="-1.3"> * </tspan><tspan font-style="italic">λ</tspan> (0.01)</text>
<line x1="211.85" y1="359.9" x2="220.75" y2="359.9" stroke="#000" stroke-width="0.8"/>
<circle cx="216.3" cy="359.9" r="1.6" fill="#000"/>
<text x="225.35" y="363.6" transform="rotate(0.03 225.35 363.6)" font-size="8.9" text-anchor="start">total cost <tspan dx="1.2" font-family='"DejaVu Serif", "Liberation Serif", serif' font-style="italic" font-size="9.6">J</tspan></text>
<g stroke="#b0b0b0" stroke-width="0.8"><line x1="86.25" y1="413.6" x2="86.25" y2="455.4"/><line x1="111" y1="413.6" x2="111" y2="455.4"/><line x1="135.75" y1="413.6" x2="135.75" y2="455.4"/><line x1="160.5" y1="413.6" x2="160.5" y2="455.4"/><line x1="185.25" y1="413.6" x2="185.25" y2="455.4"/><line x1="210" y1="413.6" x2="210" y2="455.4"/><line x1="234.75" y1="413.6" x2="234.75" y2="455.4"/><line x1="259.5" y1="413.6" x2="259.5" y2="455.4"/><line x1="284.25" y1="413.6" x2="284.25" y2="455.4"/><line x1="61.5" y1="434.5" x2="309" y2="434.5"/></g>
<clipPath id="c5"><rect x="61.5" y="413.6" width="247.5" height="41.8"/></clipPath>
<g clip-path="url(#c5)"><polyline points="61.5,445.15 73.88,443.15 86.25,423.4 98.62,418.4 111,415.4 123.38,417.65 135.75,439.65 148.12,432.15 160.5,427.65 172.88,423.9 185.25,423.55 197.62,423.65 210,424.15 222.38,424.65 234.75,424.65 247.12,424.65 259.5,424.65" fill="none" stroke="#0173b2" stroke-width="1.26" stroke-linejoin="round" stroke-linecap="butt"/><circle cx="61.5" cy="445.15" r="1.65" fill="#0173b2"/><circle cx="73.88" cy="443.15" r="1.65" fill="#0173b2"/><circle cx="86.25" cy="423.4" r="1.65" fill="#0173b2"/><circle cx="98.62" cy="418.4" r="1.65" fill="#0173b2"/><circle cx="111" cy="415.4" r="1.65" fill="#0173b2"/><circle cx="123.38" cy="417.65" r="1.65" fill="#0173b2"/><circle cx="135.75" cy="439.65" r="1.65" fill="#0173b2"/><circle cx="148.12" cy="432.15" r="1.65" fill="#0173b2"/><circle cx="160.5" cy="427.65" r="1.65" fill="#0173b2"/><circle cx="172.88" cy="423.9" r="1.65" fill="#0173b2"/><circle cx="185.25" cy="423.55" r="1.65" fill="#0173b2"/><circle cx="197.62" cy="423.65" r="1.65" fill="#0173b2"/><circle cx="210" cy="424.15" r="1.65" fill="#0173b2"/><circle cx="222.38" cy="424.65" r="1.65" fill="#0173b2"/><circle cx="234.75" cy="424.65" r="1.65" fill="#0173b2"/><circle cx="247.12" cy="424.65" r="1.65" fill="#0173b2"/><circle cx="259.5" cy="424.65" r="1.65" fill="#0173b2"/></g>
<g clip-path="url(#c5)"><polyline points="61.5,433.15 73.88,434.65 86.25,448.9 98.62,452.65 111,455.15 123.38,453.9 135.75,432.15 148.12,446.9 160.5,452.65 172.88,455.25 185.25,455.45 197.62,455.45 210,455.45 222.38,455.45 234.75,455.45 247.12,455.45 259.5,455.45" fill="none" stroke="#029e73" stroke-width="1.26" stroke-linejoin="round" stroke-linecap="butt"/><circle cx="61.5" cy="433.15" r="1.65" fill="#029e73"/><circle cx="73.88" cy="434.65" r="1.65" fill="#029e73"/><circle cx="86.25" cy="448.9" r="1.65" fill="#029e73"/><circle cx="98.62" cy="452.65" r="1.65" fill="#029e73"/><circle cx="111" cy="455.15" r="1.65" fill="#029e73"/><circle cx="123.38" cy="453.9" r="1.65" fill="#029e73"/><circle cx="135.75" cy="432.15" r="1.65" fill="#029e73"/><circle cx="148.12" cy="446.9" r="1.65" fill="#029e73"/><circle cx="160.5" cy="452.65" r="1.65" fill="#029e73"/><circle cx="172.88" cy="455.25" r="1.65" fill="#029e73"/><circle cx="185.25" cy="455.45" r="1.65" fill="#029e73"/><circle cx="197.62" cy="455.45" r="1.65" fill="#029e73"/><circle cx="210" cy="455.45" r="1.65" fill="#029e73"/><circle cx="222.38" cy="455.45" r="1.65" fill="#029e73"/><circle cx="234.75" cy="455.45" r="1.65" fill="#029e73"/><circle cx="247.12" cy="455.45" r="1.65" fill="#029e73"/><circle cx="259.5" cy="455.45" r="1.65" fill="#029e73"/></g>
<g clip-path="url(#c5)"><polyline points="61.5,447.15 73.88,448.15 86.25,453.4 98.62,454.65 111,455.35 123.38,455.45 135.75,455.15 148.12,452.65 160.5,452.65 172.88,455.15 185.25,455.2 197.62,455.2 210,455.2 222.38,455.2 234.75,455.2 247.12,455.2 259.5,455.2" fill="none" stroke="#d55e00" stroke-width="1.26" stroke-linejoin="round" stroke-linecap="butt"/><circle cx="61.5" cy="447.15" r="1.65" fill="#d55e00"/><circle cx="73.88" cy="448.15" r="1.65" fill="#d55e00"/><circle cx="86.25" cy="453.4" r="1.65" fill="#d55e00"/><circle cx="98.62" cy="454.65" r="1.65" fill="#d55e00"/><circle cx="111" cy="455.35" r="1.65" fill="#d55e00"/><circle cx="123.38" cy="455.45" r="1.65" fill="#d55e00"/><circle cx="135.75" cy="455.15" r="1.65" fill="#d55e00"/><circle cx="148.12" cy="452.65" r="1.65" fill="#d55e00"/><circle cx="160.5" cy="452.65" r="1.65" fill="#d55e00"/><circle cx="172.88" cy="455.15" r="1.65" fill="#d55e00"/><circle cx="185.25" cy="455.2" r="1.65" fill="#d55e00"/><circle cx="197.62" cy="455.2" r="1.65" fill="#d55e00"/><circle cx="210" cy="455.2" r="1.65" fill="#d55e00"/><circle cx="222.38" cy="455.2" r="1.65" fill="#d55e00"/><circle cx="234.75" cy="455.2" r="1.65" fill="#d55e00"/><circle cx="247.12" cy="455.2" r="1.65" fill="#d55e00"/><circle cx="259.5" cy="455.2" r="1.65" fill="#d55e00"/></g>
<g clip-path="url(#c5)"><polyline points="61.5,455.45 73.88,455.45 86.25,455.45 98.62,455.45 111,455.35 123.38,453.9 135.75,453.15 148.12,449.65 160.5,447.65 172.88,445.9 185.25,445.75 197.62,445.45 210,445.05 222.38,444.75 234.75,444.75 247.12,444.75 259.5,444.75" fill="none" stroke="#cc78bc" stroke-width="1.26" stroke-linejoin="round" stroke-linecap="butt"/><circle cx="61.5" cy="455.45" r="1.65" fill="#cc78bc"/><circle cx="73.88" cy="455.45" r="1.65" fill="#cc78bc"/><circle cx="86.25" cy="455.45" r="1.65" fill="#cc78bc"/><circle cx="98.62" cy="455.45" r="1.65" fill="#cc78bc"/><circle cx="111" cy="455.35" r="1.65" fill="#cc78bc"/><circle cx="123.38" cy="453.9" r="1.65" fill="#cc78bc"/><circle cx="135.75" cy="453.15" r="1.65" fill="#cc78bc"/><circle cx="148.12" cy="449.65" r="1.65" fill="#cc78bc"/><circle cx="160.5" cy="447.65" r="1.65" fill="#cc78bc"/><circle cx="172.88" cy="445.9" r="1.65" fill="#cc78bc"/><circle cx="185.25" cy="445.75" r="1.65" fill="#cc78bc"/><circle cx="197.62" cy="445.45" r="1.65" fill="#cc78bc"/><circle cx="210" cy="445.05" r="1.65" fill="#cc78bc"/><circle cx="222.38" cy="444.75" r="1.65" fill="#cc78bc"/><circle cx="234.75" cy="444.75" r="1.65" fill="#cc78bc"/><circle cx="247.12" cy="444.75" r="1.65" fill="#cc78bc"/><circle cx="259.5" cy="444.75" r="1.65" fill="#cc78bc"/></g>
<rect x="61.5" y="413.6" width="247.5" height="41.8" fill="none" stroke="#000" stroke-width="0.67"/>
<g stroke="#000" stroke-width="0.67"><line x1="61.5" y1="455.4" x2="61.5" y2="458.7"/><line x1="86.25" y1="455.4" x2="86.25" y2="458.7"/><line x1="111" y1="455.4" x2="111" y2="458.7"/><line x1="135.75" y1="455.4" x2="135.75" y2="458.7"/><line x1="160.5" y1="455.4" x2="160.5" y2="458.7"/><line x1="185.25" y1="455.4" x2="185.25" y2="458.7"/><line x1="210" y1="455.4" x2="210" y2="458.7"/><line x1="234.75" y1="455.4" x2="234.75" y2="458.7"/><line x1="259.5" y1="455.4" x2="259.5" y2="458.7"/><line x1="284.25" y1="455.4" x2="284.25" y2="458.7"/><line x1="309" y1="455.4" x2="309" y2="458.7"/><line x1="58.2" y1="455.4" x2="61.5" y2="455.4"/><line x1="58.2" y1="434.5" x2="61.5" y2="434.5"/><line x1="58.2" y1="413.6" x2="61.5" y2="413.6"/></g>
<text x="54.6" y="459.05" transform="rotate(0.03 54.6 459.05)" font-size="8.9" text-anchor="end">0</text>
<text x="54.6" y="437.95" transform="rotate(0.03 54.6 437.95)" font-size="8.9" text-anchor="end">50</text>
<text x="54.6" y="416.75" transform="rotate(0.03 54.6 416.75)" font-size="8.9" text-anchor="end">100</text>
<text transform="translate(23.3 434.2) rotate(-89.97)" font-size="8.9" text-anchor="middle">% of</text>
<text transform="translate(33.3 434.8) rotate(-89.97)" font-size="8.9" text-anchor="middle">total cost</text>
<text x="66.2" y="422" transform="rotate(0.03 66.2 422)" font-size="9.4" text-anchor="start">e)</text>
<rect x="61.5" y="469.45" width="247.5" height="99.35" fill="#d9d9d9"/>
<g stroke="#b0b0b0" stroke-width="0.8"><line x1="86.25" y1="463.5" x2="86.25" y2="568.8"/><line x1="111" y1="463.5" x2="111" y2="568.8"/><line x1="135.75" y1="463.5" x2="135.75" y2="568.8"/><line x1="160.5" y1="463.5" x2="160.5" y2="568.8"/><line x1="185.25" y1="463.5" x2="185.25" y2="568.8"/><line x1="210" y1="463.5" x2="210" y2="568.8"/><line x1="234.75" y1="463.5" x2="234.75" y2="568.8"/><line x1="259.5" y1="463.5" x2="259.5" y2="568.8"/><line x1="284.25" y1="463.5" x2="284.25" y2="568.8"/><line x1="61.5" y1="494.3" x2="309" y2="494.3"/><line x1="61.5" y1="519.1" x2="309" y2="519.1"/><line x1="61.5" y1="543.95" x2="309" y2="543.95"/></g>
<clipPath id="c6"><rect x="61.5" y="463.5" width="247.5" height="105.3"/></clipPath>
<line x1="61.5" y1="469.45" x2="309" y2="469.45" stroke="#000" stroke-width="0.85"/>
<g clip-path="url(#c6)"><polyline points="61.5,469.45 73.88,473.75 86.25,493.75 98.62,501.25 111,505.75 123.38,506.25 135.75,490.75 148.12,500.75 160.5,501.75 172.88,508.75 185.25,513.25 197.62,516.75 210,520.5 222.38,519.5 234.75,519.5 247.12,519.5 259.5,519.5" fill="none" stroke="#0173b2" stroke-width="1.26" stroke-linejoin="round" stroke-linecap="butt"/><circle cx="61.5" cy="469.45" r="1.65" fill="#0173b2"/><circle cx="73.88" cy="473.75" r="1.65" fill="#0173b2"/><circle cx="86.25" cy="493.75" r="1.65" fill="#0173b2"/><circle cx="98.62" cy="501.25" r="1.65" fill="#0173b2"/><circle cx="111" cy="505.75" r="1.65" fill="#0173b2"/><circle cx="123.38" cy="506.25" r="1.65" fill="#0173b2"/><circle cx="135.75" cy="490.75" r="1.65" fill="#0173b2"/><circle cx="148.12" cy="500.75" r="1.65" fill="#0173b2"/><circle cx="160.5" cy="501.75" r="1.65" fill="#0173b2"/><circle cx="172.88" cy="508.75" r="1.65" fill="#0173b2"/><circle cx="185.25" cy="513.25" r="1.65" fill="#0173b2"/><circle cx="197.62" cy="516.75" r="1.65" fill="#0173b2"/><circle cx="210" cy="520.5" r="1.65" fill="#0173b2"/><circle cx="222.38" cy="519.5" r="1.65" fill="#0173b2"/><circle cx="234.75" cy="519.5" r="1.65" fill="#0173b2"/><circle cx="247.12" cy="519.5" r="1.65" fill="#0173b2"/><circle cx="259.5" cy="519.5" r="1.65" fill="#0173b2"/></g>
<g clip-path="url(#c6)"><polyline points="61.5,469.45 73.88,472 86.25,476.25 98.62,481.25 111,494.25 123.38,527.5 135.75,550 148.12,551 160.5,551.75 172.88,553 185.25,554.5 197.62,554.75 210,555.5 222.38,555.75 234.75,556 247.12,556.25 259.5,556.25" fill="none" stroke="#029e73" stroke-width="1.26" stroke-linejoin="round" stroke-linecap="butt"/><circle cx="61.5" cy="469.45" r="1.65" fill="#029e73"/><circle cx="73.88" cy="472" r="1.65" fill="#029e73"/><circle cx="86.25" cy="476.25" r="1.65" fill="#029e73"/><circle cx="98.62" cy="481.25" r="1.65" fill="#029e73"/><circle cx="111" cy="494.25" r="1.65" fill="#029e73"/><circle cx="123.38" cy="527.5" r="1.65" fill="#029e73"/><circle cx="135.75" cy="550" r="1.65" fill="#029e73"/><circle cx="148.12" cy="551" r="1.65" fill="#029e73"/><circle cx="160.5" cy="551.75" r="1.65" fill="#029e73"/><circle cx="172.88" cy="553" r="1.65" fill="#029e73"/><circle cx="185.25" cy="554.5" r="1.65" fill="#029e73"/><circle cx="197.62" cy="554.75" r="1.65" fill="#029e73"/><circle cx="210" cy="555.5" r="1.65" fill="#029e73"/><circle cx="222.38" cy="555.75" r="1.65" fill="#029e73"/><circle cx="234.75" cy="556" r="1.65" fill="#029e73"/><circle cx="247.12" cy="556.25" r="1.65" fill="#029e73"/><circle cx="259.5" cy="556.25" r="1.65" fill="#029e73"/></g>
<g clip-path="url(#c6)"><polyline points="61.5,469.45 73.88,472.5 86.25,474.25 98.62,473.25 111,474.25 123.38,488 135.75,487 148.12,471.25 160.5,467.5 172.88,469.5 185.25,472 197.62,475 210,477.5 222.38,478 234.75,478 247.12,478 259.5,478" fill="none" stroke="#d55e00" stroke-width="1.26" stroke-linejoin="round" stroke-linecap="butt"/><circle cx="61.5" cy="469.45" r="1.65" fill="#d55e00"/><circle cx="73.88" cy="472.5" r="1.65" fill="#d55e00"/><circle cx="86.25" cy="474.25" r="1.65" fill="#d55e00"/><circle cx="98.62" cy="473.25" r="1.65" fill="#d55e00"/><circle cx="111" cy="474.25" r="1.65" fill="#d55e00"/><circle cx="123.38" cy="488" r="1.65" fill="#d55e00"/><circle cx="135.75" cy="487" r="1.65" fill="#d55e00"/><circle cx="148.12" cy="471.25" r="1.65" fill="#d55e00"/><circle cx="160.5" cy="467.5" r="1.65" fill="#d55e00"/><circle cx="172.88" cy="469.5" r="1.65" fill="#d55e00"/><circle cx="185.25" cy="472" r="1.65" fill="#d55e00"/><circle cx="197.62" cy="475" r="1.65" fill="#d55e00"/><circle cx="210" cy="477.5" r="1.65" fill="#d55e00"/><circle cx="222.38" cy="478" r="1.65" fill="#d55e00"/><circle cx="234.75" cy="478" r="1.65" fill="#d55e00"/><circle cx="247.12" cy="478" r="1.65" fill="#d55e00"/><circle cx="259.5" cy="478" r="1.65" fill="#d55e00"/></g>
<rect x="61.5" y="463.5" width="247.5" height="105.3" fill="none" stroke="#000" stroke-width="0.67"/>
<g stroke="#000" stroke-width="0.67"><line x1="61.5" y1="568.8" x2="61.5" y2="572.1"/><line x1="86.25" y1="568.8" x2="86.25" y2="572.1"/><line x1="111" y1="568.8" x2="111" y2="572.1"/><line x1="135.75" y1="568.8" x2="135.75" y2="572.1"/><line x1="160.5" y1="568.8" x2="160.5" y2="572.1"/><line x1="185.25" y1="568.8" x2="185.25" y2="572.1"/><line x1="210" y1="568.8" x2="210" y2="572.1"/><line x1="234.75" y1="568.8" x2="234.75" y2="572.1"/><line x1="259.5" y1="568.8" x2="259.5" y2="572.1"/><line x1="284.25" y1="568.8" x2="284.25" y2="572.1"/><line x1="309" y1="568.8" x2="309" y2="572.1"/><line x1="58.2" y1="469.45" x2="61.5" y2="469.45"/><line x1="58.2" y1="494.3" x2="61.5" y2="494.3"/><line x1="58.2" y1="519.1" x2="61.5" y2="519.1"/><line x1="58.2" y1="543.95" x2="61.5" y2="543.95"/></g>
<text x="54.6" y="473.5" transform="rotate(0.03 54.6 473.5)" font-size="8.9" text-anchor="end">1.0</text>
<text x="54.6" y="497.95" transform="rotate(0.03 54.6 497.95)" font-size="8.9" text-anchor="end">0.75</text>
<text x="54.6" y="522.75" transform="rotate(0.03 54.6 522.75)" font-size="8.9" text-anchor="end">0.5</text>
<text x="54.6" y="547.6" transform="rotate(0.03 54.6 547.6)" font-size="8.9" text-anchor="end">0.25</text>
<text transform="translate(20.3 516.45) rotate(-89.97)" font-size="8.9" text-anchor="middle">Scaled by OGGM</text>
<text transform="translate(30.6 516.45) rotate(-89.97)" font-size="8.9" text-anchor="middle">first guess MAD</text>
<text x="66.2" y="472.8" transform="rotate(0.03 66.2 472.8)" font-size="9.4" text-anchor="start">f)</text>
<rect x="65.9" y="530.1" width="180.7" height="27.8" rx="1.7" ry="1.7" fill="#fff" fill-opacity="0.8" stroke="#cacaca" stroke-opacity="0.95" stroke-width="0.67"/>
<line x1="69.2" y1="536.85" x2="78.1" y2="536.85" stroke="#0173b2" stroke-width="1.26" stroke-linecap="square"/>
<circle cx="73.65" cy="536.85" r="1.65" fill="#0173b2"/>
<line x1="69.2" y1="550.4" x2="78.1" y2="550.4" stroke="#029e73" stroke-width="1.26" stroke-linecap="square"/>
<circle cx="73.65" cy="550.4" r="1.65" fill="#029e73"/>
<text x="82.25" y="539.75" transform="rotate(0.03 82.25 539.75)" font-size="8.9" text-anchor="start">MAD_V_2020</text>
<text x="82.25" y="553.3" transform="rotate(0.03 82.25 553.3)" font-size="8.9" text-anchor="start">MAD_BED</text>
<line x1="145" y1="536.85" x2="153.9" y2="536.85" stroke="#d55e00" stroke-width="1.26" stroke-linecap="square"/>
<circle cx="149.45" cy="536.85" r="1.65" fill="#d55e00"/>
<rect x="144.8" y="547.1" width="9.3" height="6.1" fill="#d5d5d5" stroke="#bcbcbc" stroke-width="0.7"/>
<text x="158.05" y="539.75" transform="rotate(0.03 158.05 539.75)" font-size="8.9" text-anchor="start">MAD_V_1980</text>
<text x="158.05" y="553.3" transform="rotate(0.03 158.05 553.3)" font-size="8.9" text-anchor="start">OGGM fg improved</text>
<g fill="#fff" stroke="#000" stroke-width="0.72"><rect x="3.7" y="562" width="71.2" height="12.3" rx="1.8" ry="1.8"/><rect x="81.65" y="562" width="9.2" height="12.3" rx="1.8" ry="1.8"/><rect x="106.4" y="562" width="9.2" height="12.3" rx="1.8" ry="1.8"/><rect x="131.15" y="562" width="9.2" height="12.3" rx="1.8" ry="1.8"/><rect x="155.9" y="562" width="9.2" height="12.3" rx="1.8" ry="1.8"/><rect x="177.85" y="562" width="14.8" height="12.3" rx="1.8" ry="1.8"/><rect x="202.6" y="562" width="14.8" height="12.3" rx="1.8" ry="1.8"/><rect x="227.35" y="562" width="14.8" height="12.3" rx="1.8" ry="1.8"/><rect x="252.1" y="562" width="14.8" height="12.3" rx="1.8" ry="1.8"/></g>
<text x="39.5" y="571.25" transform="rotate(0.03 39.5 571.25)" font-size="8.9" text-anchor="middle">Nr. model runs:</text>
<text x="86.25" y="571.25" transform="rotate(0.03 86.25 571.25)" font-size="8.9" text-anchor="middle">3</text>
<text x="111" y="571.25" transform="rotate(0.03 111 571.25)" font-size="8.9" text-anchor="middle">5</text>
<text x="135.75" y="571.25" transform="rotate(0.03 135.75 571.25)" font-size="8.9" text-anchor="middle">7</text>
<text x="160.5" y="571.25" transform="rotate(0.03 160.5 571.25)" font-size="8.9" text-anchor="middle">9</text>
<text x="185.25" y="571.25" transform="rotate(0.03 185.25 571.25)" font-size="8.9" text-anchor="middle">11</text>
<text x="210" y="571.25" transform="rotate(0.03 210 571.25)" font-size="8.9" text-anchor="middle">13</text>
<text x="234.75" y="571.25" transform="rotate(0.03 234.75 571.25)" font-size="8.9" text-anchor="middle">28</text>
<text x="259.5" y="571.25" transform="rotate(0.03 259.5 571.25)" font-size="8.9" text-anchor="middle">65</text>
<text x="61.5" y="582.7" transform="rotate(0.03 61.5 582.7)" font-size="8.9" text-anchor="middle">0</text>
<text x="86.25" y="582.7" transform="rotate(0.03 86.25 582.7)" font-size="8.9" text-anchor="middle">2</text>
<text x="111" y="582.7" transform="rotate(0.03 111 582.7)" font-size="8.9" text-anchor="middle">4</text>
<text x="135.75" y="582.7" transform="rotate(0.03 135.75 582.7)" font-size="8.9" text-anchor="middle">6</text>
<text x="160.5" y="582.7" transform="rotate(0.03 160.5 582.7)" font-size="8.9" text-anchor="middle">8</text>
<text x="185.25" y="582.7" transform="rotate(0.03 185.25 582.7)" font-size="8.9" text-anchor="middle">10</text>
<text x="210" y="582.7" transform="rotate(0.03 210 582.7)" font-size="8.9" text-anchor="middle">12</text>
<text x="234.75" y="582.7" transform="rotate(0.03 234.75 582.7)" font-size="8.9" text-anchor="middle">14</text>
<text x="259.5" y="582.7" transform="rotate(0.03 259.5 582.7)" font-size="8.9" text-anchor="middle">16</text>
<text x="284.25" y="582.7" transform="rotate(0.03 284.25 582.7)" font-size="8.9" text-anchor="middle">18</text>
<text x="309" y="582.7" transform="rotate(0.03 309 582.7)" font-size="8.9" text-anchor="middle">20</text>
<text x="185.25" y="595" transform="rotate(0.03 185.25 595)" font-size="8.9" text-anchor="middle">Iterations</text>
</svg>
</body></html>
